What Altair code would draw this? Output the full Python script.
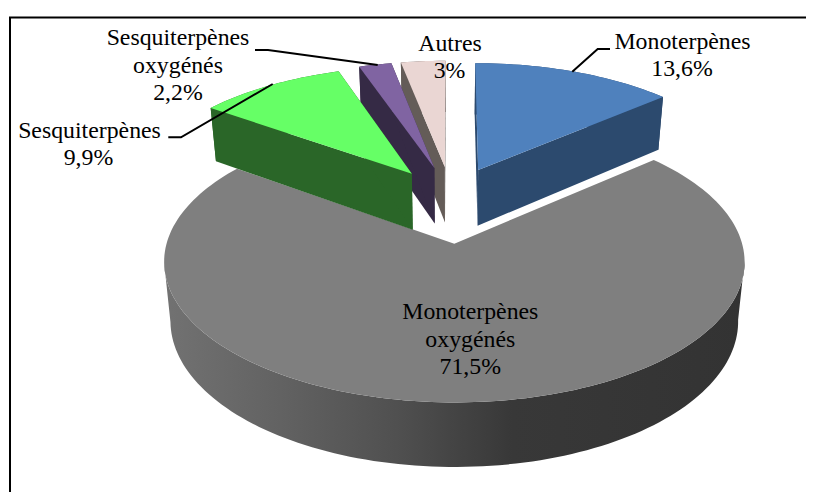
import math
import altair as alt
import pandas as pd

# ---- data ----
categories = ["Monoterpènes", "Monoterpènes oxygénés", "Sesquiterpènes", "Sesquiterpènes oxygénés", "Autres"]
values = [13.6, 71.5, 9.9, 2.2, 3.0]
top_colors = ["#4F81BD", "#7F7F7F", "#66FF66", "#8064A2", "#EAD6D3"]
wall_colors = ["#2C4A6E", None, "#2A6628", "#352A45", "#645C58"]
draw_order = [1, 4, 3, 2, 0]

# ---- projection of the exploded 3-D pie ----
CX, CY, A, B, P = 451.0, 203.8, 277.0, 128.0, 0.125
EX, EY = 0.245, 0.30
DEPTH, BOTTOM_K = 57.0, 0.978


def project(X, Y, bottom=False):
    d = 1 + P * Y
    sx = CX + A * X / d
    sy = CY - B * Y / d
    if bottom:
        sx = CX + (sx - CX) * BOTTOM_K
        sy = sy + DEPTH * d ** -0.7
    return sx, sy


def rect_face(points):
    return pd.DataFrame([{"x": p[0], "y": p[1], "seq": i} for i, p in enumerate(points)])


total = sum(values)
faces = []
start = 0.0
slices = {}
for i, v in enumerate(values):
    sweep = 360.0 * v / total
    slices[i] = (start, start + sweep)
    start += sweep

for i in draw_order:
    a0, a1 = slices[i]
    m = math.radians((a0 + a1) / 2)
    ox, oy = EX * math.sin(m), EY * math.cos(m)
    n = max(4, int((a1 - a0) / 1.5))
    arc = []
    for k in range(n + 1):
        t = math.radians(a0 + (a1 - a0) * k / n)
        arc.append((ox + math.sin(t), oy + math.cos(t)))
    apex = (ox, oy)
    tops = [project(*q) for q in arc]
    bots = [project(*q, bottom=True) for q in arc]
    ta, ba = project(*apex), project(*apex, bottom=True)
    if wall_colors[i] is None:
        # only the part of the rim that faces the viewer: from the right-most to the left-most point
        xs = [p[0] for p in tops]
        ir, il = xs.index(max(xs)), xs.index(min(xs))
        wall = alt.Gradient(
            gradient="linear", x1=0, x2=1, y1=0, y2=0,
            stops=[
                alt.GradientStop(offset=0.0, color="#727272"),
                alt.GradientStop(offset=0.2, color="#626262"),
                alt.GradientStop(offset=0.4, color="#505050"),
                alt.GradientStop(offset=0.6, color="#383838"),
                alt.GradientStop(offset=1.0, color="#333333"),
            ],
        )
        faces.append((tops[ir:il + 1] + bots[ir:il + 1][::-1], wall))
    else:
        wall = wall_colors[i]
        faces.append((tops + bots[::-1], wall))                 # outer wall
        faces.append(([ta, tops[0], bots[0], ba], wall))        # cut faces
        faces.append(([ta, tops[-1], bots[-1], ba], wall))
    faces.append(([ta] + tops, top_colors[i]))                  # top

x_enc = alt.X("x:Q", axis=None, scale=alt.Scale(domain=[8, 806]))
y_enc = alt.Y("y:Q", axis=None, scale=alt.Scale(domain=[492, 8]))

layers = []
for pts, fill in faces:
    layers.append(
        alt.Chart(rect_face(pts))
        .mark_line(fill=fill, strokeWidth=0, interpolate="linear-closed")
        .encode(x=x_enc, y=y_enc, order=alt.Order("seq:Q"))
    )

# ---- frame ----
frame = [[(806, 17.5), (10, 17.5), (10, 492)]]
# ---- leader lines ----
leaders = [
    [(610, 49), (597.7, 49), (572.3, 71.7)],
    [(255, 50), (268, 50), (377.7, 65)],
    [(168.3, 137.3), (181, 137.3), (272.7, 84)],
]
for pts in frame + leaders:
    layers.append(
        alt.Chart(rect_face(pts))
        .mark_line(color="black", strokeWidth=2)
        .encode(x=x_enc, y=y_enc, order=alt.Order("seq:Q"))
    )

# ---- labels ----
label_text = ["Monoterpènes", "13,6%", "Sesquiterpènes", "oxygénés", "2,2%", "Sesquiterpènes", "9,9%",
              "Autres", "3%", "Monoterpènes", "oxygénés", "71,5%"]
label_x = [682.5, 682, 178, 178, 178, 89.5, 88.5, 450, 449.5, 470.3, 470.3, 470.3]
label_y = [49.3, 76, 45, 72.7, 100, 137.7, 165, 50.7, 78.3, 319, 346.7, 374]
layers.append(
    alt.Chart(pd.DataFrame({"x": label_x, "y": label_y, "t": label_text}))
    .mark_text(font="Liberation Serif", fontSize=23.8, baseline="alphabetic", align="center", color="black")
    .encode(x=x_enc, y=y_enc, text="t:N")
)

chart = (
    alt.layer(*layers)
    .properties(width=798, height=484, padding=0, autosize=alt.AutoSizeParams(type="none"))
    .configure_view(stroke=None)
)
chart.save("out.html", embed_options={"renderer": "svg", "actions": False})
